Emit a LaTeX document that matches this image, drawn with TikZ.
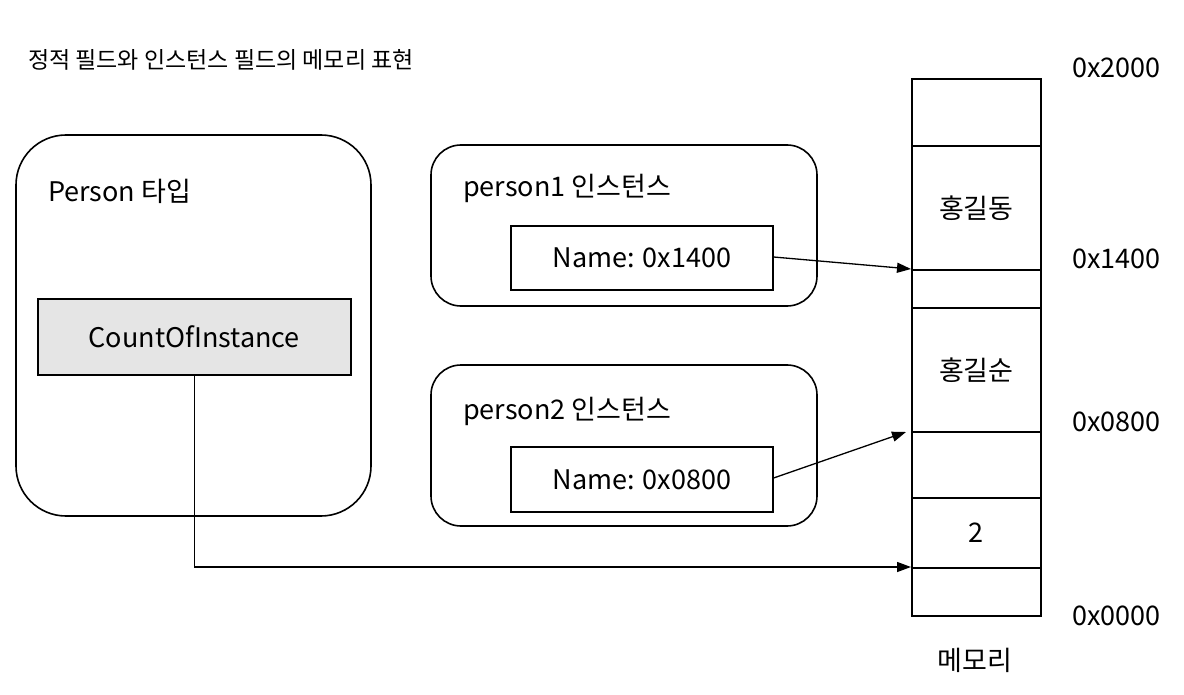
\documentclass[tikz,border=0pt]{standalone}
\usepackage{fontspec}
\setmainfont{Noto Sans CJK KR}
\usetikzlibrary{arrows.meta}
\begin{document}
\begin{tikzpicture}[x=1pt,y=-1pt,
  lbl/.style={font=\fontsize{27}{31}\selectfont, inner sep=0pt},
  box/.style={draw, line width=1.6pt},
  cell/.style={draw, line width=1.6pt},
  conn/.style={line width=1.3pt, -{Triangle[length=14pt,width=10pt]}}]
\useasboundingbox (0,0) rectangle (1184,695);
% title
\node[anchor=west, inner sep=0pt, font=\fontsize{23}{27}\selectfont] (title) at (28,60) {정적 필드와 인스턴스 필드의 메모리 표현};
% Person type
\draw[box, rounded corners=50pt] (16,135) rectangle (371,516);
\node[lbl, anchor=west] (ptype) at (48,191) {Person 타입};
\node[box, fill=black!10, minimum width=313pt, minimum height=76pt, anchor=north west, lbl] (count) at (37,298) {CountOfInstance};
% person1
\draw[box, rounded corners=30pt] (431,145) rectangle (817,306);
\node[lbl, anchor=west] (p1) at (463,188) {person1 인스턴스};
\node[box, minimum width=262pt, minimum height=64pt, anchor=north west, lbl] (n1) at (510,225) {Name: 0x1400};
% person2
\draw[box, rounded corners=30pt] (431,365) rectangle (817,526);
\node[lbl, anchor=west] (p2) at (463,411) {person2 인스턴스};
\node[box, minimum width=262pt, minimum height=65pt, anchor=north west, lbl] (n2) at (510,446) {Name: 0x0800};
% memory cells
\node[cell, minimum width=129pt, minimum height=67pt, anchor=north west, inner sep=0pt] (m0) at (911,78) {};
\node[cell, minimum width=129pt, minimum height=124pt, anchor=north west, lbl] (m1) at (911,145) {홍길동};
\node[cell, minimum width=129pt, minimum height=38pt, anchor=north west, inner sep=0pt] (m2) at (911,269) {};
\node[cell, minimum width=129pt, minimum height=124pt, anchor=north west, lbl] (m3) at (911,307) {홍길순};
\node[cell, minimum width=129pt, minimum height=66pt, anchor=north west, inner sep=0pt] (m4) at (911,431) {};
\node[cell, minimum width=129pt, minimum height=70pt, anchor=north west, lbl] (m5) at (911,497) {2};
\node[cell, minimum width=129pt, minimum height=48pt, anchor=north west, inner sep=0pt] (m6) at (911,567) {};
% addresses
\node[lbl, anchor=west] (a2000) at (1072,68) {0x2000};
\node[lbl, anchor=west] (a1400) at (1072,259) {0x1400};
\node[lbl, anchor=west] (a0800) at (1072,422) {0x0800};
\node[lbl, anchor=west] (a0000) at (1072,616) {0x0000};
\node[lbl] (mem) at (975,660) {메모리};
% connectors
\coordinate (t1) at (911,269);
\coordinate (t2) at (906,432);
\coordinate (t3) at (911,567);
\draw[conn] (n1.east |- 0,257) -- (t1);
\draw[conn] (n2.east |- 0,478) -- (t2);
\draw[conn] (count.south) |- (t3);
\end{tikzpicture}
\end{document}
